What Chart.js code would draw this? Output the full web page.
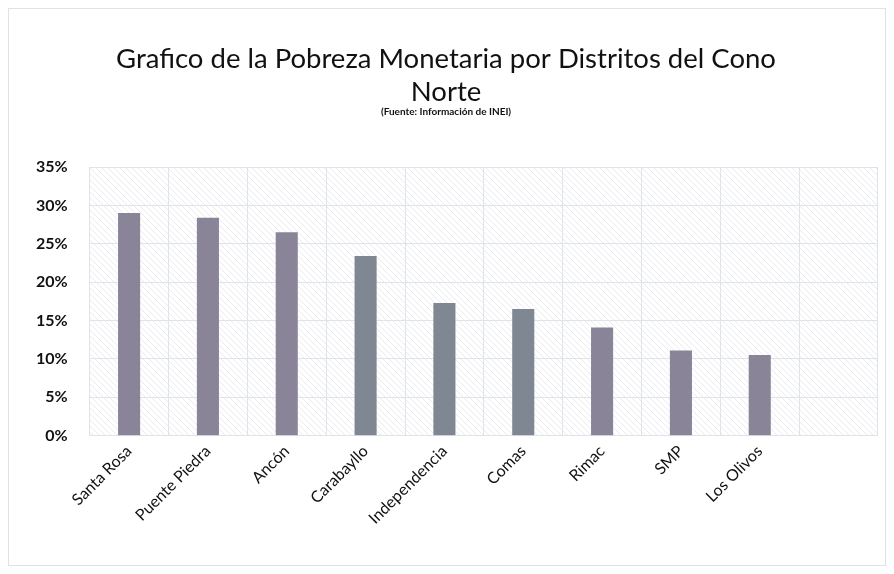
<!DOCTYPE html>
<html>
<head>
<meta charset="utf-8">
<script src="https://cdn.jsdelivr.net/npm/chart.js@4/dist/chart.umd.min.js"></script>
<style>
  html, body { margin: 0; padding: 0; background: #fff; }
  #wrap { width: 894px; height: 574px; position: relative; }
</style>
</head>
<body>
<div id="wrap"><canvas id="chart"></canvas></div>
<script>
const districts = ["Santa Rosa", "Puente Piedra", "Ancón", "Carabayllo", "Independencia", "Comas", "Rimac", "SMP", "Los Olivos", ""];
const poverty = [29.0, 28.4, 26.5, 23.4, 17.3, 16.5, 14.1, 11.1, 10.5, null];
const barColors = ["#8a8499", "#8a8499", "#8a8499", "#7f8793", "#7f8793", "#7f8793", "#8a8499", "#8a8499", "#8a8499", "#8a8499"];
const titleLines = ["Grafico de la Pobreza Monetaria por Distritos del Cono", "Norte"];
const subtitleText = "(Fuente: Información de INEI)";

const font = "Lato, 'Open Sans', sans-serif";

// faint diagonal hatch behind the plot, like the scanned Excel chart
function hatch() {
  const c = document.createElement("canvas");
  c.width = 6;
  c.height = 6;
  const g = c.getContext("2d");
  g.strokeStyle = "#e9ebee";
  g.lineWidth = 1;
  g.beginPath();
  g.moveTo(0, 0);
  g.lineTo(6, 6);
  g.stroke();
  return g.createPattern(c, "repeat");
}

const background = {
  id: "background",
  beforeDraw(chart) {
    const { ctx, chartArea: a } = chart;
    ctx.save();
    ctx.fillStyle = hatch();
    ctx.fillRect(a.left, a.top, a.right - a.left, a.bottom - a.top);
    ctx.strokeStyle = "#e2e2e2";
    ctx.lineWidth = 1;
    ctx.strokeRect(8.5, 8.5, chart.width - 17, chart.height - 17);
    ctx.restore();
  },
};

new Chart(document.getElementById("chart"), {
  type: "bar",
  data: {
    labels: districts,
    datasets: [{
      data: poverty,
      backgroundColor: barColors,
      barPercentage: 0.56,
      categoryPercentage: 0.5,
    }],
  },
  options: {
    responsive: true,
    maintainAspectRatio: false,
    animation: false,
    layout: { padding: { left: 14, right: 16, top: 43, bottom: 40 } },
    plugins: {
      legend: { display: false },
      tooltip: { enabled: false },
      title: {
        display: true,
        text: titleLines,
        color: "#111",
        font: { family: font, size: 27.5, weight: "normal" },
        lineHeight: 1.2,
        padding: { top: 0, bottom: 0 },
      },
      subtitle: {
        display: true,
        text: subtitleText,
        color: "#111",
        font: { family: font, size: 10, weight: "bold" },
        padding: { top: -3, bottom: 49 },
      },
    },
    scales: {
      x: {
        grid: { color: "#dfe4ea", offset: true, drawTicks: false },
        border: { display: false },
        ticks: {
          color: "#111",
          font: { family: font, size: 16 },
          maxRotation: 45,
          minRotation: 45,
          padding: 6,
        },
      },
      y: {
        min: 0,
        max: 35,
        grid: { color: "#dfe4ea", drawTicks: false },
        border: { display: false },
        ticks: {
          stepSize: 5,
          color: "#111",
          font: { family: font, size: 16, weight: "bold" },
          padding: 22,
          callback: (v) => v + "%",
        },
      },
    },
  },
  plugins: [background],
});
</script>
</body>
</html>
